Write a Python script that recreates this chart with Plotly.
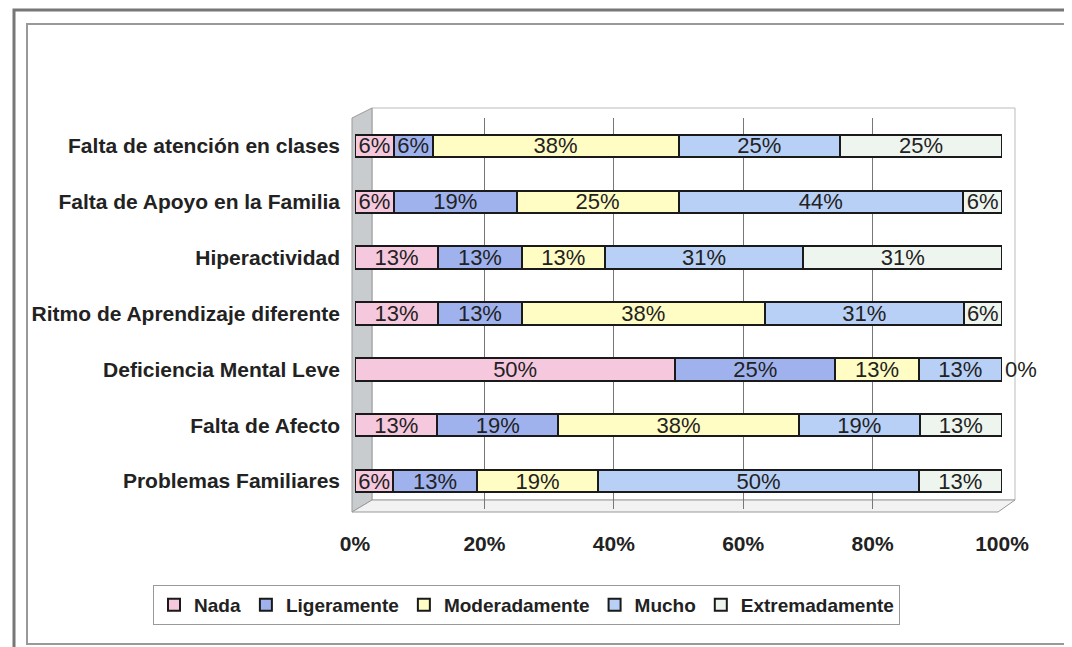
import plotly.graph_objects as go

categories = [
    "Falta de atención en clases",
    "Falta de Apoyo en la Familia",
    "Hiperactividad",
    "Ritmo de Aprendizaje diferente",
    "Deficiencia Mental Leve",
    "Falta de Afecto",
    "Problemas Familiares",
]
series_names = ["Nada", "Ligeramente", "Moderadamente", "Mucho", "Extremadamente"]
nada = [6, 6, 13, 13, 50, 13, 6]
ligeramente = [6, 19, 13, 13, 25, 19, 13]
moderadamente = [38, 25, 13, 38, 13, 38, 19]
mucho = [25, 44, 31, 31, 13, 19, 50]
extremadamente = [25, 6, 31, 6, 0, 13, 13]
series_values = [nada, ligeramente, moderadamente, mucho, extremadamente]
colors = ["#F6C8DE", "#9FB2EE", "#FFFCC4", "#B8D0F6", "#EEF5EF"]
tick_vals = [0, 20, 40, 60, 80, 100]
tick_text = ["0%", "20%", "40%", "60%", "80%", "100%"]

# the page body has an 8px margin; work in screen pixels and compensate
OFF = 8
W, H = 1072 - OFF, 647 - OFF
L, R, T, B = 355, 1002, 118, 509  # plot area in screen pixels

def px(x):
    return (x - L) / (R - L)

def py(y):
    return (B - y) / (B - T)

FONT = "Liberation Sans, Arial, sans-serif"

fig = go.Figure()
for name, vals, col in zip(series_names, series_values, colors):
    fig.add_trace(go.Bar(
        y=categories,
        x=vals,
        name=name,
        orientation="h",
        marker=dict(color=col, line=dict(color="#1a1a1a", width=2)),
        text=[f"{v}%" for v in vals],
        textposition=["outside" if v == 0 else "inside" for v in vals],
        insidetextanchor="middle",
        textangle=0,
        textfont=dict(family=FONT, size=22, color="#222222"),
        cliponaxis=False,
        constraintext="none",
    ))

shapes = [
    # outer frame
    dict(type="rect", xref="paper", yref="paper", x0=px(14), x1=px(1085), y0=py(665), y1=py(10),
         line=dict(color="#777777", width=3), layer="below"),
    # inner frame
    dict(type="rect", xref="paper", yref="paper", x0=px(27), x1=px(1067), y0=py(644), y1=py(24),
         line=dict(color="#999999", width=2), layer="below"),
    # back wall outline
    dict(type="rect", xref="paper", yref="paper", x0=px(372), x1=px(1015), y0=py(500), y1=py(108),
         line=dict(color="#bbbbbb", width=1), layer="below"),
    # 3D left wall
    dict(type="path", xref="paper", yref="paper",
         path=f"M {px(352)},{py(118)} L {px(372)},{py(108)} L {px(372)},{py(500)} L {px(352)},{py(512)} Z",
         fillcolor="#c9cccf", line=dict(color="#999999", width=1), layer="below"),
    # 3D floor
    dict(type="path", xref="paper", yref="paper",
         path=f"M {px(352)},{py(512)} L {px(372)},{py(500)} L {px(1015)},{py(500)} L {px(998)},{py(512)} Z",
         fillcolor="#f2f2f2", line=dict(color="#999999", width=1), layer="below"),
]

fig.update_layout(
    width=W, height=H,
    margin=dict(l=L - OFF, r=W - (R - OFF), t=T - OFF, b=H - (B - OFF), autoexpand=False),
    barmode="stack",
    barnorm="percent",
    bargap=0.6,
    paper_bgcolor="white",
    plot_bgcolor="rgba(0,0,0,0)",
    showlegend=True,
    legend=dict(
        orientation="h",
        x=px(153), y=py(605), xanchor="left", yanchor="middle",
        traceorder="normal",
        font=dict(family=FONT, size=19, color="#222222", weight="bold"),
        bordercolor="#999999", borderwidth=1,
        itemwidth=30,
        itemsizing="constant",
    ),
    xaxis=dict(
        range=[0, 100],
        tickvals=tick_vals,
        ticktext=tick_text,
        showgrid=True,
        gridcolor="#777777",
        gridwidth=1,
        zeroline=False,
        showline=False,
        ticks="",
        ticklabelstandoff=20,
        tickfont=dict(family=FONT, size=21, color="#222222", weight="bold"),
    ),
    yaxis=dict(
        categoryorder="array",
        categoryarray=categories,
        autorange="reversed",
        showgrid=False,
        zeroline=False,
        showline=False,
        ticks="",
        ticklabelstandoff=14,
        tickfont=dict(family=FONT, size=21, color="#222222", weight="bold"),
    ),
    shapes=shapes,
    uniformtext=dict(mode="show", minsize=22),
)

fig.write_html("out.html")
